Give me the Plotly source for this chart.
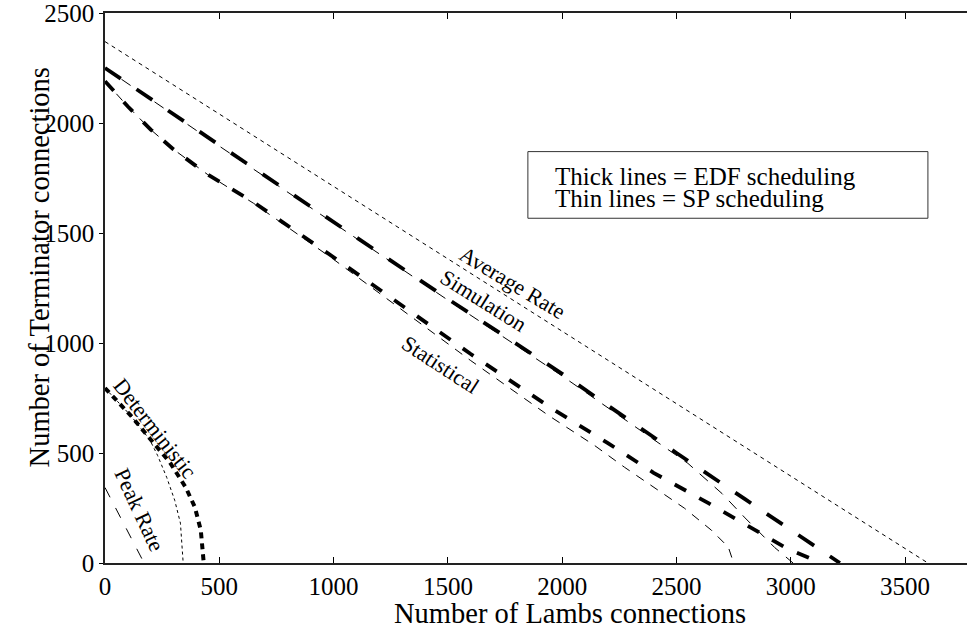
import plotly.graph_objects as go

# ---- data ----
avg_x = [0, 3600]
avg_y = [2370, 0]

sim_edf_x = [0, 500, 1000, 1500, 2000, 2500, 2800, 3000, 3100, 3215]
sim_edf_y = [2250, 1900, 1550, 1200, 860, 500, 290, 150, 80, 0]

sim_sp_x = [0, 500, 1000, 1500, 2000, 2400, 2550, 2700, 2800, 2930, 3010]
sim_sp_y = [2250, 1895, 1545, 1195, 850, 560, 453, 315, 205, 70, 0]

stat_edf_x = [0, 100, 200, 300, 450, 650, 1000, 1300, 1600, 1955, 2200, 2400, 2640, 2860, 2980, 3100, 3130]
stat_edf_y = [2190, 2075, 1970, 1880, 1765, 1640, 1390, 1170, 950, 702, 545, 410, 272, 140, 68, 14, 0]

stat_sp_x = [0, 100, 200, 300, 450, 650, 1000, 1300, 1600, 1941, 2142, 2273, 2404, 2535, 2653, 2727, 2750]
stat_sp_y = [2190, 2075, 1970, 1880, 1765, 1635, 1380, 1150, 920, 670, 534, 435, 340, 249, 149, 72, 0]

det_edf_x = [0, 113, 196, 284, 353, 393, 419, 430, 432]
det_edf_y = [795, 670, 566, 457, 344, 254, 150, 50, 0]

det_sp_x = [0, 113, 196, 230, 270, 305, 330, 340, 342]
det_sp_y = [795, 670, 560, 489, 389, 285, 181, 60, 0]

peak_x = [0, 171]
peak_y = [343, 0]

x_ticks = [0, 500, 1000, 1500, 2000, 2500, 3000, 3500]
y_ticks = [0, 500, 1000, 1500, 2000, 2500]

FONT = "Liberation Serif, Times New Roman, serif"

fig = go.Figure()

def add(x, y, width, dash):
    fig.add_trace(go.Scatter(x=x, y=y, mode="lines",
                             line=dict(color="black", width=width, dash=dash),
                             showlegend=False, hoverinfo="skip", cliponaxis=False))

add(avg_x, avg_y, 1, "4px,4px")
add(sim_sp_x, sim_sp_y, 1, "11px,9px")
add(sim_edf_x, sim_edf_y, 3.8, "19px,19px")
add(stat_sp_x, stat_sp_y, 1, "9px,8px")
add(stat_edf_x, stat_edf_y, 3.8, "13px,15px")
add(det_sp_x, det_sp_y, 1, "3px,3px")
add(det_edf_x, det_edf_y, 4, "6px,5px")
add(peak_x, peak_y, 1, "11px,12px")

labels = [
    ("Average Rate", 1781, 1273, 31),
    ("Simulation", 1654, 1191, 32),
    ("Statistical", 1466, 901, 33),
    ("Deterministic", 219, 611, 52),
    ("Peak Rate", 153, 240, 65),
]
for txt, x, y, ang in labels:
    fig.add_annotation(x=x, y=y, text=txt, showarrow=False, textangle=ang,
                       font=dict(family=FONT, size=22, color="black"))

# legend box
fig.add_shape(type="rect", x0=1850, x1=3600, y0=1567, y1=1870,
              line=dict(color="#333333", width=1), fillcolor="white", layer="above")
fig.add_annotation(x=1960, y=1757, text="Thick lines = EDF scheduling", xanchor="left",
                   showarrow=False, font=dict(family=FONT, size=25, color="black"))
fig.add_annotation(x=1960, y=1658, text="Thin lines = SP scheduling", xanchor="left",
                   showarrow=False, font=dict(family=FONT, size=25, color="black"))

# axis titles
fig.add_annotation(xref="paper", yref="paper", x=0.539, y=-0.0925, yanchor="middle",
                   text="Number of Lambs connections", showarrow=False,
                   font=dict(family=FONT, size=28.5, color="black"))
fig.add_annotation(xref="paper", yref="paper", x=-0.096, y=0.537, textangle=-90,
                   text="Number of Terminator connections", showarrow=False,
                   font=dict(family=FONT, size=28.5, color="black"))

fig.update_layout(
    width=967, height=624,
    margin=dict(l=105, r=0, t=11, b=61),
    plot_bgcolor="white", paper_bgcolor="white",
    font=dict(family=FONT, size=25, color="black"),
    showlegend=False,
)
fig.update_xaxes(range=[0, 3771], tickvals=x_ticks, ticktext=[str(v) for v in x_ticks],
                 showgrid=False, zeroline=False, showline=True, linecolor="#222222",
                 linewidth=1.5, mirror="ticks", ticks="inside", ticklen=6,
                 tickcolor="black", ticklabeloverflow="allow",
                 tickfont=dict(family=FONT, size=25))
fig.update_yaxes(range=[0, 2500], tickvals=y_ticks, ticktext=[str(v) for v in y_ticks],
                 showgrid=False, zeroline=False, showline=True, linecolor="#222222",
                 linewidth=1.5, mirror=False, ticks="outside", ticklen=4,
                 tickcolor="black", ticklabeloverflow="allow",
                 tickfont=dict(family=FONT, size=25))

fig.write_html("out.html")
